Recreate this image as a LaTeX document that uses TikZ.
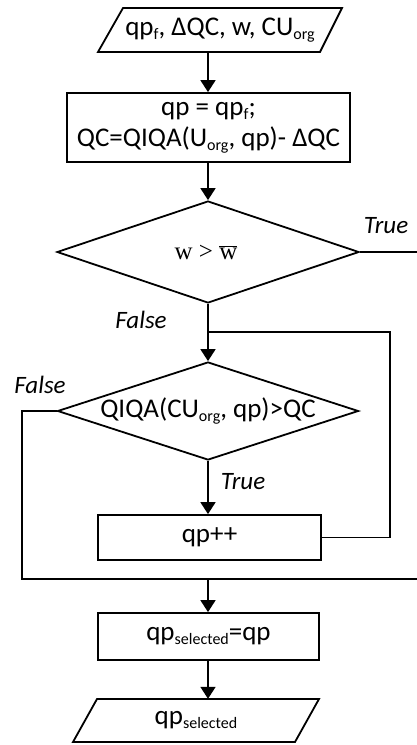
\documentclass[tikz,border=0pt]{standalone}
\usepackage{fontspec}
\setmainfont{Carlito}
\newfontfamily\serifw{Liberation Serif}
\usetikzlibrary{shapes.geometric,arrows.meta}
\newcommand\sbs[1]{\raisebox{-0.3ex}{\fontsize{16}{16}\selectfont #1}}
\begin{document}
\begin{tikzpicture}[x=1pt,y=-1pt,
  line/.style={line width=1.8pt},
  arr/.style={line width=1.8pt, -{Triangle[length=12pt,width=15pt]}},
  box/.style={draw, line width=1.8pt, rectangle, inner sep=0pt, align=center, font=\fontsize{27}{31}\selectfont},
  dia/.style={draw, diamond, line width=1.8pt, inner sep=0pt},
  txt/.style={inner sep=0pt, font=\fontsize{27}{31}\selectfont},
  lbl/.style={inner sep=0pt, font=\fontsize{25}{30}\selectfont\itshape}]
\useasboundingbox (0,0) rectangle (417,745);

% input
\draw[line] (98,52) -- (123,8) -- (342,8) -- (320,52) -- cycle;
\node[txt, minimum width=200pt, minimum height=44pt] (in) at (220,30) {qp\sbs{f}, ΔQC, w, CU\sbs{org}};

% box 1
\node[box, minimum width=283pt, minimum height=69pt] (b1) at (208.5,127.5) {qp = qp\sbs{f};\\QC=QIQA(U\sbs{org}, qp)- ΔQC};

% decision 1
\node[dia, minimum width=302pt, minimum height=102pt] (d1) at (208,252) {};
\node[inner sep=0pt, font=\serifw\fontsize{25}{30}\selectfont] (d1t) at (206,252) {w > $\overline{\mbox{w}}$};
\coordinate (tr) at (417,252);
\node[lbl] (lt1) at (386,226) {True};
\node[lbl] (lf1) at (141,320) {False};

% decision 2
\node[dia, minimum width=301pt, minimum height=98pt] (d2) at (208,411) {};
\node[txt] (d2t) at (d2) {QIQA(CU\sbs{org}, qp)>QC};
\node[lbl] (lf2) at (40,385) {False};
\node[lbl] (lt2) at (243,482) {True};

% qp++
\node[box, minimum width=223pt, minimum height=45pt] (b2) at (209.5,537.5) {qp++};

% qp selected
\node[box, minimum width=221pt, minimum height=47pt] (b3) at (208.5,636.5) {qp\sbs{selected}=qp};

% output
\draw[line] (73,742) -- (97,699) -- (319,699) -- (295,742) -- cycle;
\node[txt, minimum width=200pt, minimum height=43pt] (out) at (196,720.5) {qp\sbs{selected}};

% coordinates
\coordinate (j) at (208,332);
\coordinate (lp) at (390,332);
\coordinate (fl) at (22,579);
\coordinate (fr) at (417,579);
\coordinate (j2) at (208,579);

% connectors
\draw[arr] (in.south -| d1) -- (d1 |- b1.north);
\draw[arr] (d1 |- b1.south) -- (d1.north);
\draw[line] (d1.east) -- (tr);
\draw[arr] (d1.south) -- (d2.north);
\draw[arr] (d2.south) -- (d2.south |- b2.north);
\draw[line] (b2.east) -| (lp) -- (j);
\draw[line] (d2.west) -| (fl) -- (fr);
\draw[arr] (j2) -- (j2 |- b3.north);
\draw[arr] (j2 |- b3.south) -- (j2 |- out.north);
\end{tikzpicture}
\end{document}
